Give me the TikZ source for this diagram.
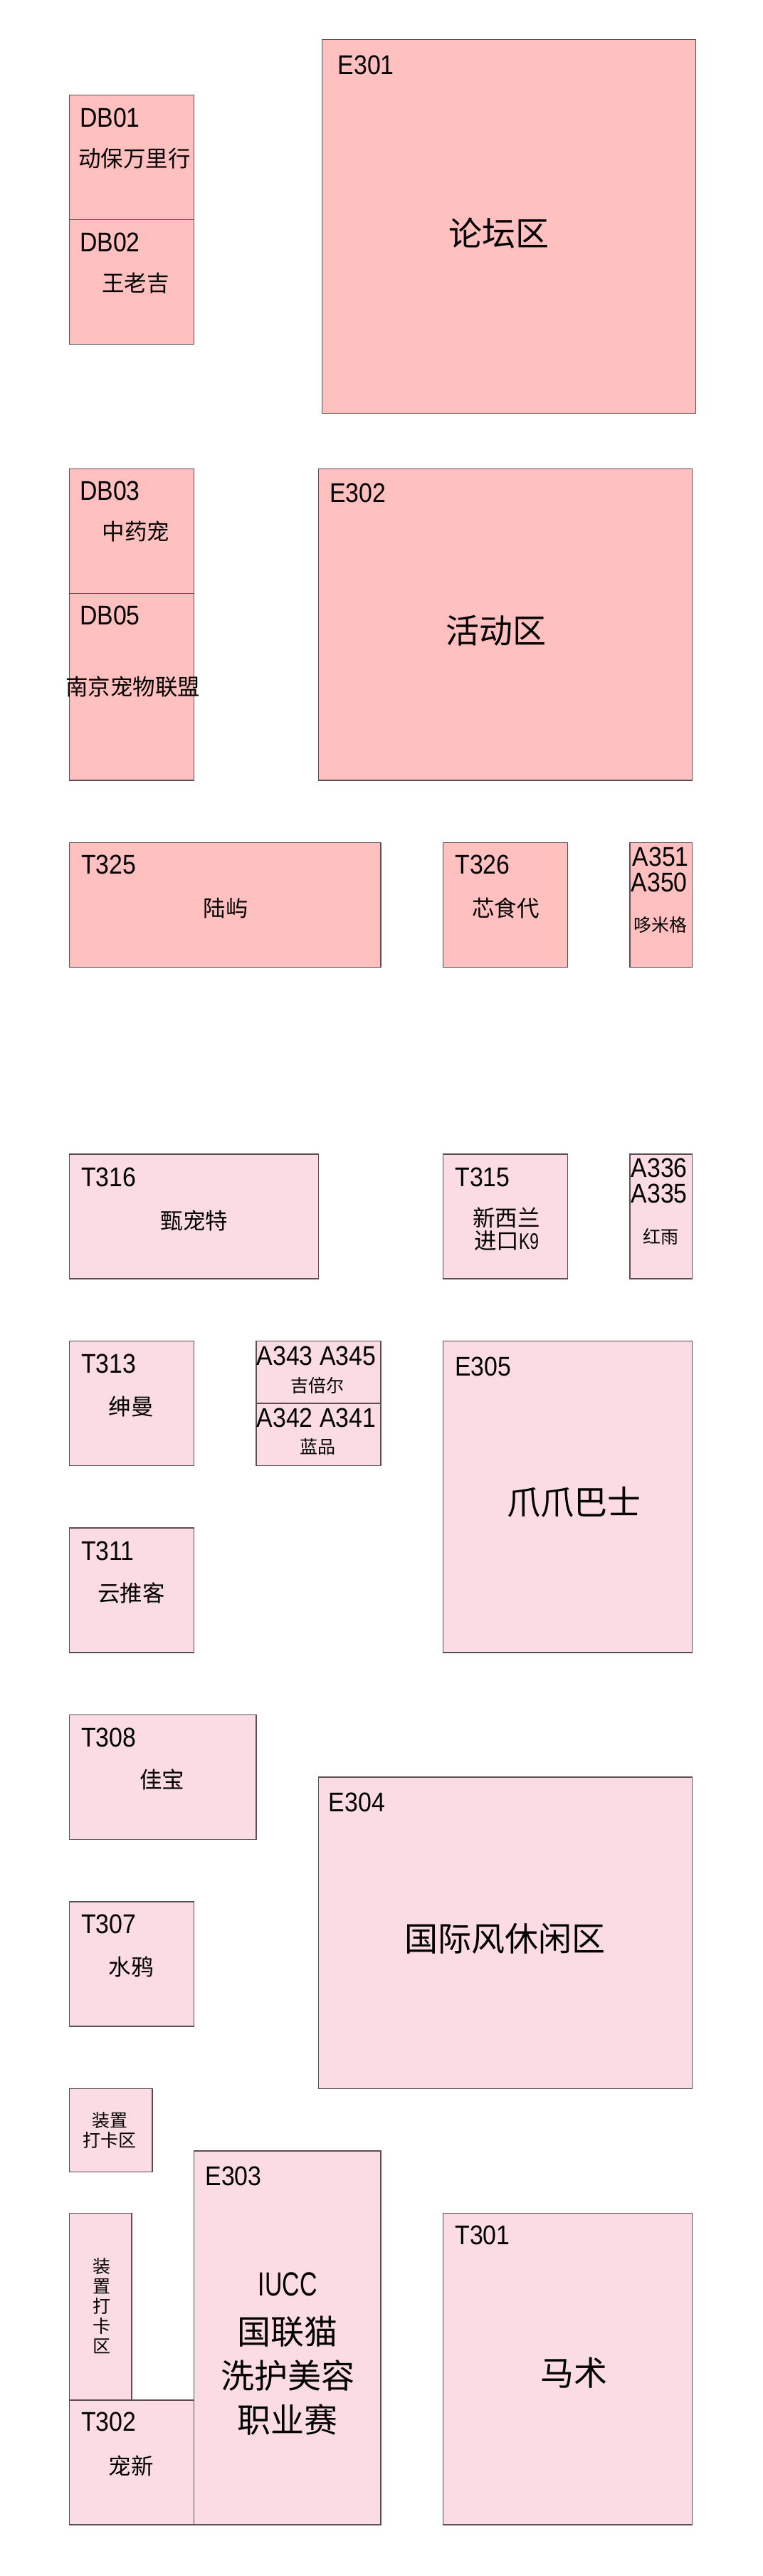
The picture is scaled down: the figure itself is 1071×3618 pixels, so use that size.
\documentclass[tikz,border=0pt]{standalone}
\usepackage{fontspec}
\setmainfont{Noto Sans CJK SC}
\newfontfamily\idfont[FakeStretch=0.89]{Liberation Sans}
\newfontfamily\narrowfont[FakeStretch=0.72]{Liberation Sans}
\usetikzlibrary{positioning}
\definecolor{hallred}{HTML}{FFC0BF}
\definecolor{hallpink}{HTML}{FBDCE4}
\definecolor{boothline}{HTML}{5A5052}
\tikzset{
	booth/.style={draw=boothline,line width=1.5pt,inner sep=0,outer sep=0,anchor=north west,rectangle},
	redbooth/.style={booth,fill=hallred},
	pinkbooth/.style={booth,fill=hallpink},
	idcode/.style={inner sep=0,anchor=west,font=\idfont\fontsize{38}{38}\selectfont},
	idmid/.style={inner sep=0,font=\idfont\fontsize{38}{38}\selectfont},
	brand/.style={inner sep=0,align=center,font=\fontsize{31.5}{32}\selectfont},
	tiny/.style={inner sep=0,align=center,font=\fontsize{25}{28}\selectfont},
	area/.style={inner sep=0,align=center,font=\fontsize{47}{62}\selectfont},
}
\begin{document}
\begin{tikzpicture}[x=1pt,y=-1pt]
	\useasboundingbox (0,0) rectangle (1071,3618);

	% top block
	\node[redbooth,minimum width=175pt,minimum height=175pt] (db01) at (97.3,133.7) {};
	\node[redbooth,minimum width=175pt,minimum height=175pt] (db02) at (97.3,308.7) {};
	\node[redbooth,minimum width=525pt,minimum height=525pt] (e301) at (452.3,55.7) {};
	\node[redbooth,minimum width=175pt,minimum height=175pt] (db03) at (97.3,658.7) {};
	\node[redbooth,minimum width=175pt,minimum height=262.5pt] (db05) at (97.3,833.7) {};
	\node[redbooth,minimum width=525pt,minimum height=437.5pt] (e302) at (447.3,658.7) {};
	\node[redbooth,minimum width=437.5pt,minimum height=175pt] (t325) at (97.3,1183.7) {};
	\node[redbooth,minimum width=175pt,minimum height=175pt] (t326) at (622.3,1183.7) {};
	\node[redbooth,minimum width=87.5pt,minimum height=175pt] (a351) at (884.8,1183.7) {};

	\node[idcode] (db01id) at (112,165.3) {DB01};
	\node[brand] (db01name) at (189.2,222.7) {动保万里行};
	\node[idcode] (db02id) at (112,340.4) {DB02};
	\node[brand] (db02name) at (190.5,397.2) {王老吉};
	\node[idcode] (e301id) at (474.5,91.7) {E301};
	\node[area] (e301name) at (701,327.1) {论坛区};
	\node[idcode] (db03id) at (112,689.4) {DB03};
	\node[brand] (db03name) at (191.1,746.1) {中药宠};
	\node[idcode] (db05id) at (112,864.5) {DB05};
	\node[brand] (db05name) at (186.8,964.7) {南京宠物联盟};
	\node[idcode] (e302id) at (462.9,692.7) {E302};
	\node[area] (e302name) at (696.7,885.6) {活动区};
	\node[idcode] (t325id) at (114,1214.9) {T325};
	\node[brand] (t325name) at (317.2,1275.6) {陆屿};
	\node[idcode] (t326id) at (639.2,1214.9) {T326};
	\node[brand] (t326name) at (710.6,1275.6) {芯食代};
	\node[idmid] (a351id) at (928.2,1203.6) {A351};
	\node[idmid] (a350id) at (926.2,1239.5) {A350};
	\node[tiny] (a351name) at (928.2,1299.2) {哆米格};

	% lower block
	\node[pinkbooth,minimum width=350pt,minimum height=175pt] (t316) at (97.3,1621.2) {};
	\node[pinkbooth,minimum width=175pt,minimum height=175pt] (t315) at (622.3,1621.2) {};
	\node[pinkbooth,minimum width=87.5pt,minimum height=175pt] (a336) at (884.8,1621.2) {};
	\node[pinkbooth,minimum width=175pt,minimum height=175pt] (t313) at (97.3,1883.7) {};
	\node[pinkbooth,minimum width=175pt,minimum height=87.5pt] (a343) at (359.8,1883.7) {};
	\node[pinkbooth,minimum width=175pt,minimum height=87.5pt] (a342) at (359.8,1971.2) {};
	\node[pinkbooth,minimum width=350pt,minimum height=437.5pt] (e305) at (622.3,1883.7) {};
	\node[pinkbooth,minimum width=175pt,minimum height=175pt] (t311) at (97.3,2146.2) {};
	\node[pinkbooth,minimum width=262.5pt,minimum height=175pt] (t308) at (97.3,2408.7) {};
	\node[pinkbooth,minimum width=175pt,minimum height=175pt] (t307) at (97.3,2671.2) {};
	\node[pinkbooth,minimum width=525pt,minimum height=437.5pt] (e304) at (447.3,2496.2) {};
	\node[pinkbooth,minimum width=116.7pt,minimum height=116.7pt] (photoa) at (97.3,2933.7) {};
	\node[pinkbooth,minimum width=87.5pt,minimum height=262.5pt] (photob) at (97.3,3108.7) {};
	\node[pinkbooth,minimum width=175pt,minimum height=175pt] (t302) at (97.3,3371.2) {};
	\node[pinkbooth,minimum width=262.5pt,minimum height=525pt] (e303) at (272.3,3021.2) {};
	\node[pinkbooth,minimum width=350pt,minimum height=437.5pt] (t301) at (622.3,3108.7) {};

	\node[idcode] (t316id) at (114,1652.9) {T316};
	\node[brand] (t316name) at (273.1,1714) {甄宠特};
	\node[idcode] (t315id) at (639.2,1652.9) {T315};
	\node[brand] (t315name) at (711.6,1726) {新西兰\\进口{\narrowfont K9}};
	\node[idmid] (a336id) at (926.2,1640.7) {A336};
	\node[idmid] (a335id) at (926.2,1676.7) {A335};
	\node[tiny] (a336name) at (928.2,1737) {红雨};
	\node[idcode] (t313id) at (114,1915.5) {T313};
	\node[brand] (t313name) at (184.3,1975.2) {绅曼};
	\node[idmid] (a343id) at (444.5,1904) {A343 A345};
	\node[tiny] (a343name) at (446.2,1946.2) {吉倍尔};
	\node[idmid] (a342id) at (444.5,1991.3) {A342 A341};
	\node[tiny] (a342name) at (446.2,2032.4) {蓝品};
	\node[idcode] (e305id) at (639.2,1919.3) {E305};
	\node[area] (e305name) at (806.9,2110) {爪爪巴士};
	\node[idcode] (t311id) at (114,2178.1) {T311};
	\node[brand] (t311name) at (184.3,2237.7) {云推客};
	\node[idcode] (t308id) at (114,2440.1) {T308};
	\node[brand] (t308name) at (227.7,2499.5) {佳宝};
	\node[idcode] (t307id) at (114,2702.7) {T307};
	\node[brand] (t307name) at (184.3,2762) {水鸦};
	\node[idcode] (e304id) at (461.7,2531.6) {E304};
	\node[area] (e304name) at (709,2722.5) {国际风休闲区};
	\node[tiny] (photoaname) at (154.4,2992.2) {装置\\打卡区};
	\node[tiny] (photobname) at (142.7,3238.7) {装\\置\\打\\卡\\区};
	\node[idcode] (e303id) at (288.4,3056.2) {E303};
	\node[area] (e303name) at (404.3,3306) {{\narrowfont IUCC}\\[6pt]国联猫\\洗护美容\\职业赛};
	\node[idcode] (t301id) at (639.2,3139.2) {T301};
	\node[area] (t301name) at (806.9,3333) {马术};
	\node[idcode] (t302id) at (114,3401.8) {T302};
	\node[brand] (t302name) at (184.3,3463.5) {宠新};
\end{tikzpicture}
\end{document}
